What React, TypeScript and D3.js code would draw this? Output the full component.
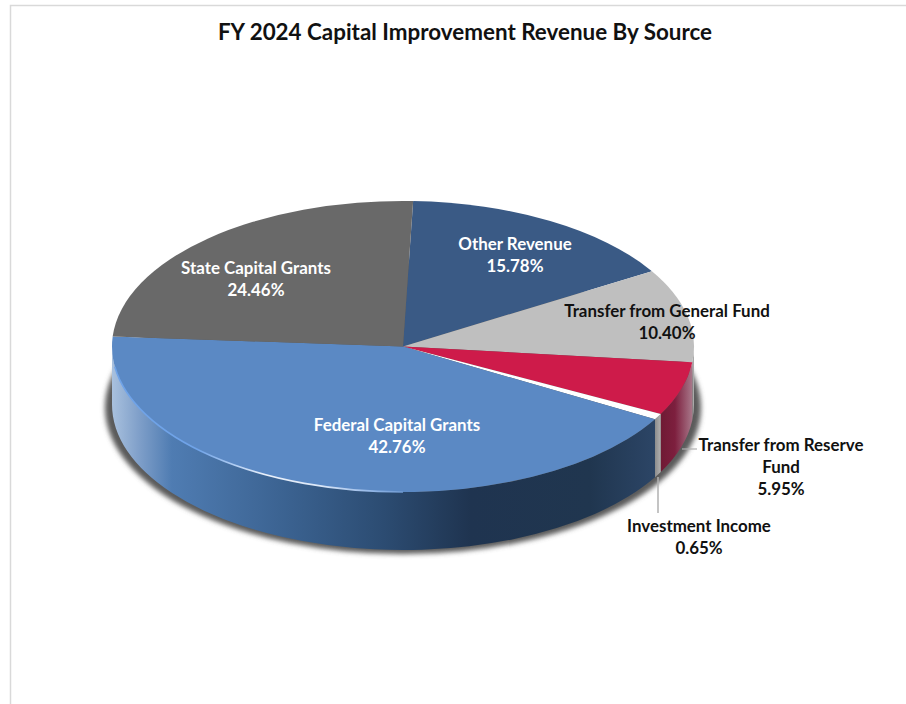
import React from "react";
import * as d3 from "d3";

const titleText = "FY 2024 Capital Improvement Revenue By Source";
const categories = ["Other Revenue", "Transfer from General Fund", "Transfer from Reserve Fund", "Investment Income", "Federal Capital Grants", "State Capital Grants"];
const shares = [15.78, 10.4, 5.95, 0.65, 42.76, 24.46];
const topColors = ["#3a5a85", "#bfbfbf", "#ce1b4a", "#ffffff", "#5b89c4", "#696969"];
const labelLines = [["Other Revenue", "15.78%"], ["Transfer from General Fund", "10.40%"], ["Transfer from Reserve", "Fund", "5.95%"], ["Investment Income", "0.65%"], ["Federal Capital Grants", "42.76%"], ["State Capital Grants", "24.46%"]];
const labelColors = ["#ffffff", "#111111", "#111111", "#111111", "#ffffff", "#ffffff"];
const labelAnchors: [number, number][] = [[515, 244], [667, 311], [781, 445], [699, 526], [397, 425], [256, 268]];
const sideStops: [number, string][][] = [
  [[0, "#3a5a85"], [1, "#3a5a85"]],
  [[0, "#8f8f8f"], [1, "#b5b5b5"]],
  [[0, "#6f1a34"], [0.45, "#7d1f3e"], [1, "#a8788a"]],
  [[0, "#8c8c8c"], [1, "#b0b0b0"]],
  [[0, "#a9c1de"], [0.05, "#7f9fc9"], [0.11, "#4f7cb2"], [0.33, "#3a618f"], [0.5, "#2c4c72"], [0.66, "#1f3450"], [0.88, "#20364f"], [1, "#2c4566"]],
  [[0, "#696969"], [1, "#696969"]],
];

const W = 906, H = 704, cx = 403, cy = 346.5, rx = 291, ry = 145.5, depth = 58;
const startDeg = 2;

const pie = d3.pie<number>().sort(null).startAngle((startDeg * Math.PI) / 180).endAngle(((startDeg + 360) * Math.PI) / 180);
const arcs = pie(shares);
const arcGen = d3.arc<d3.PieArcDatum<number>>().innerRadius(0).outerRadius(rx);
const px = (a: number) => cx + rx * Math.sin(a);
const py = (a: number) => cy - ry * Math.cos(a);

function sidePath(a0: number, a1: number) {
  const s = Math.max(a0, Math.PI / 2), e = Math.min(a1, (3 * Math.PI) / 2);
  if (e <= s) return null;
  const large = e - s > Math.PI ? 1 : 0;
  return { s, e, d: `M${px(s)},${py(s)}A${rx},${ry} 0 ${large} 1 ${px(e)},${py(e)}L${px(e)},${py(e) + depth}A${rx},${ry} 0 ${large} 0 ${px(s)},${py(s) + depth}Z` };
}

const rimStart = (262 * Math.PI) / 180, rimEnd = Math.PI;
const rim = `M${px(rimStart)},${py(rimStart)}A${rx},${ry} 0 0 0 ${px(rimEnd)},${py(rimEnd)}`;

export default function App() {
  const font = "Lato, 'Noto Sans', sans-serif";
  return (
    <svg width={W} height={H} viewBox={`0 0 ${W} ${H}`} style={{ position: "absolute", left: 0, top: 0, display: "block" }}>
      <defs>
        <filter id="blur" x="-10%" y="-20%" width="120%" height="140%"><feGaussianBlur stdDeviation="2.5" /></filter>
        <filter id="soft" x="-10%" y="-20%" width="120%" height="140%"><feGaussianBlur stdDeviation="0.6" /></filter>
        {arcs.map((a, i) => {
          const p = sidePath(a.startAngle, a.endAngle);
          if (!p) return null;
          const xs = px(p.s), xe = px(p.e);
          return (
            <linearGradient key={i} id={`side${i}`} gradientUnits="userSpaceOnUse" x1={Math.min(xs, xe)} x2={Math.max(xs, xe)} y1="0" y2="0">
              {sideStops[i].map(([o, c], j) => <stop key={j} offset={o} stopColor={c} />)}
            </linearGradient>
          );
        })}
        <linearGradient id="rim" gradientUnits="userSpaceOnUse" x1={cx - rx} x2={cx + 17} y1="0" y2="0">
          <stop offset="0" stopColor="#6fa3e8" />
          <stop offset="0.28" stopColor="#6fa3e8" />
          <stop offset="0.5" stopColor="#eaf1fb" />
          <stop offset="0.68" stopColor="#dbe7f8" />
          <stop offset="0.85" stopColor="#8fb4e6" />
          <stop offset="1" stopColor="#5b89c4" />
        </linearGradient>
      </defs>
      <rect width={W} height={H} fill="#ffffff" />
      <path d={`M10.5,${H}V5.5H${W}`} fill="none" stroke="#d9d9d9" strokeWidth="1.5" />
      <text x={465} y={40} textAnchor="middle" fontFamily={font} fontWeight={700} fontSize={22.4} fill="#111111">{titleText}</text>

      <ellipse cx={cx} cy={cy + depth + 3} rx={rx + 7} ry={ry + 1} fill="#5a5a5a" filter="url(#blur)" />
      {arcs.map((a, i) => {
        const p = sidePath(a.startAngle, a.endAngle);
        return p ? <path key={i} d={p.d} fill={`url(#side${i})`} /> : null;
      })}
      <g transform={`translate(${cx},${cy}) scale(1,0.5)`}>
        {arcs.map((a, i) => (
          <path key={categories[i]} d={arcGen(a) as string} fill={topColors[i]} />
        ))}
      </g>
      <path d={rim} fill="none" stroke="url(#rim)" strokeWidth="1.6" filter="url(#soft)" />

      <path d="M682,449H697" stroke="#b0b0b0" strokeWidth="1.2" fill="none" />
      <path d="M658,477V513" stroke="#b0b0b0" strokeWidth="1.5" fill="none" />

      {labelLines.map((lines, i) => (
        <text key={i} textAnchor="middle" fontFamily={font} fontWeight={700} fontSize={16.9} fill={labelColors[i]}>
          {lines.map((t, j) => (
            <tspan key={j} x={labelAnchors[i][0]} y={labelAnchors[i][1] + j * 22 + 5.5}>{t}</tspan>
          ))}
        </text>
      ))}
    </svg>
  );
}
